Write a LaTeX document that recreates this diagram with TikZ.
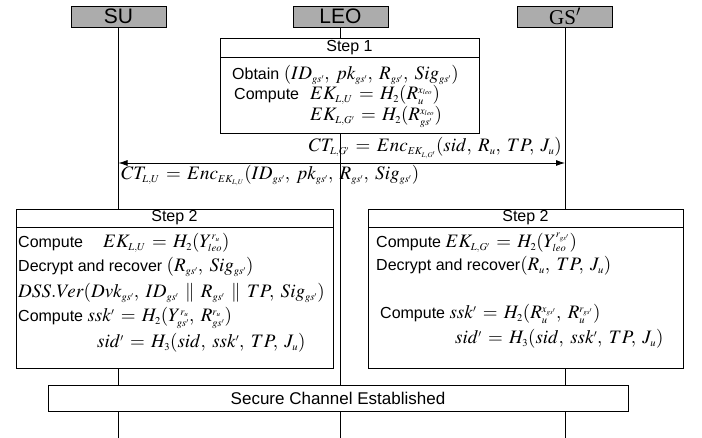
\documentclass[tikz,border=0pt]{standalone}
\usepackage{mathptmx}
\usepackage[no-math]{fontspec}
\setmainfont{Liberation Sans}
\newfontfamily\timesfont{Liberation Serif}
\usetikzlibrary{positioning, arrows.meta}
\DeclareMathSizes{19}{19}{10.5}{7}
\newcommand{\mth}[1]{{\fontsize{19}{19}\selectfont\thinmuskip=6mu\thickmuskip=6mu\medmuskip=5mu$#1$}}

\begin{document}
\begin{tikzpicture}[x=1pt, y=-1pt, >={Latex[length=9pt,width=6pt]},
    actor/.style={draw, fill=gray!65, minimum width=95pt, minimum height=21pt, inner sep=0pt, font=\fontsize{21}{21}\selectfont},
    lifeline/.style={line width=0.8pt},
    stepbox/.style={draw, fill=white, line width=0.9pt, inner sep=0pt, font=\fontsize{16}{16}\selectfont},
    txt/.style={anchor=base west, inner sep=0pt, font=\fontsize{16}{18}\selectfont}]
    \useasboundingbox (0,0) rectangle (702,438);

    % participants and their lifelines
    \node [actor] (su) at (118.5,16.5) {SU};
    \node [actor] (leo) at (340.5,16.5) {LEO};
    \node [actor] (gs) at (565,16.5) {\timesfont GS$'$};
    \coordinate (suend) at (118.5,438);
    \coordinate (leoend) at (340.5,438);
    \coordinate (gsend) at (565,438);
    \draw [lifeline] (su) -- (suend);
    \draw [lifeline] (leo) -- (leoend);
    \draw [lifeline] (gs) -- (gsend);

    % Step 1 at LEO
    \node [stepbox, minimum width=259pt, minimum height=19pt] (step1) at (349.5,47.5) {Step 1};
    \node [stepbox, minimum width=259pt, minimum height=76pt, below=0pt of step1] (step1body) {};
    \node [txt] (obtain) at (232,80) {Obtain \mth{(ID_{gs'},pk_{gs'},R_{gs'},Sig_{gs'})}};
    \node [txt] (cmp1) at (234,100) {Compute};
    \node [txt] (ekU) at (310,100) {\mth{EK_{L,U}=H_2(R_u^{x_{leo}})}};
    \node [txt] (ekG) at (310,121) {\mth{EK_{L,G'}=H_2(R_{gs'}^{x_{leo}})}};

    % messages
    \coordinate (msgL) at (118.5,163);
    \coordinate (msgR) at (565,163);
    \draw [<->, lifeline] (msgL) -- (msgR);
    \node [txt, anchor=base east] (ctG) at (562,152) {\mth{CT_{L,G'}=Enc_{EK_{L,G'}}(sid,R_u,TP,J_u)}};
    \node [txt] (ctU) at (121,180) {\mth{CT_{L,U}=Enc_{EK_{L,U}}(ID_{gs'},pk_{gs'},R_{gs'},Sig_{gs'})}};

    % Step 2 at SU
    \node [stepbox, minimum width=317pt, minimum height=18pt] (step2su) at (174.5,218) {Step 2};
    \node [stepbox, minimum width=317pt, minimum height=141pt, below=0pt of step2su] (step2subody) {};
    \node [txt] (cmp2) at (18,248) {Compute};
    \node [txt] (ekU2) at (103,248) {\mth{EK_{L,U}=H_2(Y_{leo}^{r_u})}};
    \node [txt] (dec1) at (18,272) {Decrypt and recover \mth{(R_{gs'},Sig_{gs'})}};
    \node [txt] (dss) at (18,298) {\mth{DSS.Ver(Dvk_{gs'},ID_{gs'}\parallel R_{gs'}\parallel TP,Sig_{gs'})}};
    \node [txt] (cmp3) at (18,322) {Compute \mth{ssk'=H_2(Y_{gs'}^{r_u},R_{gs'}^{r_u})}};
    \node [txt] (sid1) at (97,348) {\mth{sid'=H_3(sid,ssk',TP,J_u)}};

    % Step 2 at GS'
    \node [stepbox, minimum width=315pt, minimum height=18pt] (step2gs) at (525.5,218) {Step 2};
    \node [stepbox, minimum width=315pt, minimum height=141pt, below=0pt of step2gs] (step2gsbody) {};
    \node [txt] (cmp4) at (376,248) {Compute \mth{EK_{L,G'}=H_2(Y_{leo}^{r_{gs'}})}};
    \node [txt] (dec2) at (376,271) {Decrypt and recover\mth{(R_u,TP,J_u)}};
    \node [txt] (cmp5) at (380,319) {Compute \mth{ssk'=H_2(R_u^{x_{gs'}},R_u^{r_{gs'}})}};
    \node [txt] (sid2) at (455,344) {\mth{sid'=H_3(sid,ssk',TP,J_u)}};

    % end of the protocol
    \node [stepbox, minimum width=580pt, minimum height=26pt, font=\fontsize{17}{17}\selectfont] (secure) at (338,398) {Secure Channel Established};
\end{tikzpicture}
\end{document}
